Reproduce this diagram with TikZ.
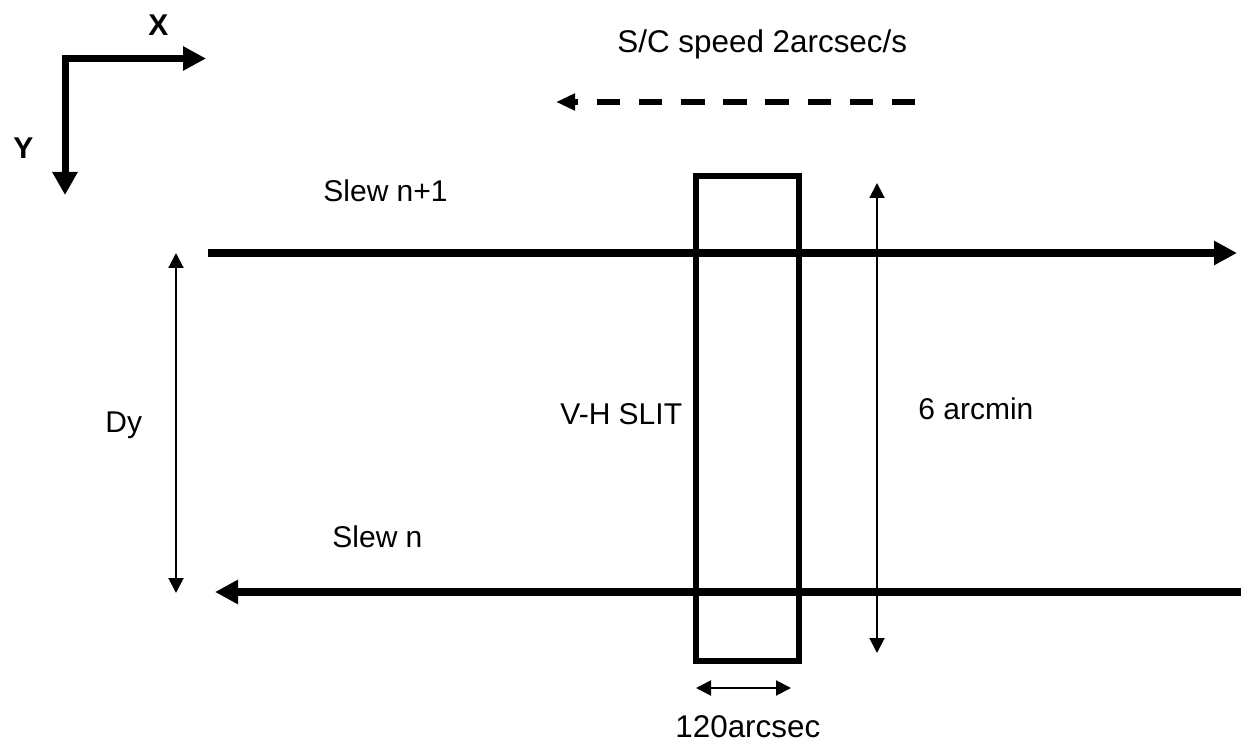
\documentclass[tikz,border=0pt]{standalone}
\usepackage{fontspec}
\setmainfont{Liberation Sans}
\usetikzlibrary{arrows.meta}
\begin{document}
\begin{tikzpicture}[x=0.5pt,y=-0.5pt,
  lbl/.style={inner sep=0pt, anchor=base west, font=\fontsize{15}{18}\selectfont},
  biglbl/.style={lbl, font=\fontsize{15.7}{18}\selectfont},
  axlbl/.style={lbl, font=\fontsize{15}{18}\selectfont\bfseries},
  thick arrow/.style={line width=3.75pt, -{Triangle[length=11.5pt,width=11.5pt]}},
  axis arrow/.style={line width=3.5pt, line join=miter, {Triangle[length=11.5pt,width=12pt]}-{Triangle[length=11.5pt,width=11.5pt]}},
  thin arrow/.style={line width=1pt, {Triangle[length=7.5pt,width=7.5pt]}-{Triangle[length=7.5pt,width=7.5pt]}},
  speed arrow/.style={line width=3.25pt, dash pattern=on 11.65pt off 9.4pt, -{Triangle[length=9.5pt,width=8pt]}},
  slitbox/.style={draw, line width=3pt, inner sep=0pt, minimum width=51.5pt, minimum height=242.25pt}
]
\useasboundingbox (0,0) rectangle (1241,742);

% axes
\coordinate (xtip) at (206,58.5);
\coordinate (corner) at (65,58.5);
\coordinate (ytip) at (65,195);
\draw[axis arrow] (ytip) -- (corner) -- (xtip);
\node[axlbl] (xlab) at (148,36) {X};
\node[axlbl] (ylab) at (13,159) {Y};

% speed arrow
\coordinate (sp1) at (915,102);
\coordinate (sp2) at (556,102);
\draw[speed arrow] (sp1) -- (sp2);
\node[biglbl] (speed) at (617,53) {S/C speed 2arcsec/s};

% slit
\node[slitbox] (slit) at (747.5,418.75) {};
\node[lbl] (slitlab) at (560,425) {V-H SLIT};

% slews
\coordinate (a1) at (208,253);
\coordinate (a2) at (1237,253);
\draw[thick arrow] (a1) -- (a2);
\coordinate (b1) at (1241,592);
\coordinate (b2) at (215,592);
\draw[thick arrow] (b1) -- (b2);
\node[lbl] (slewn1) at (323,202) {Slew n+1};
\node[lbl] (slewn) at (332,547) {Slew n};

% Dy
\coordinate (d1) at (176,253);
\coordinate (d2) at (176,593);
\draw[thin arrow] (d1) -- (d2);
\node[lbl] (dy) at (105,433) {Dy};

% 6 arcmin
\coordinate (m1) at (877,183);
\coordinate (m2) at (877,653);
\draw[thin arrow] (m1) -- (m2);
\node[lbl] (arcmin) at (918,420) {6 arcmin};

% 120 arcsec
\coordinate (w1) at (696,688);
\coordinate (w2) at (791,688);
\draw[thin arrow] (w1) -- (w2);
\node[biglbl] (arcsec) at (675,737) {120arcsec};
\end{tikzpicture}
\end{document}
